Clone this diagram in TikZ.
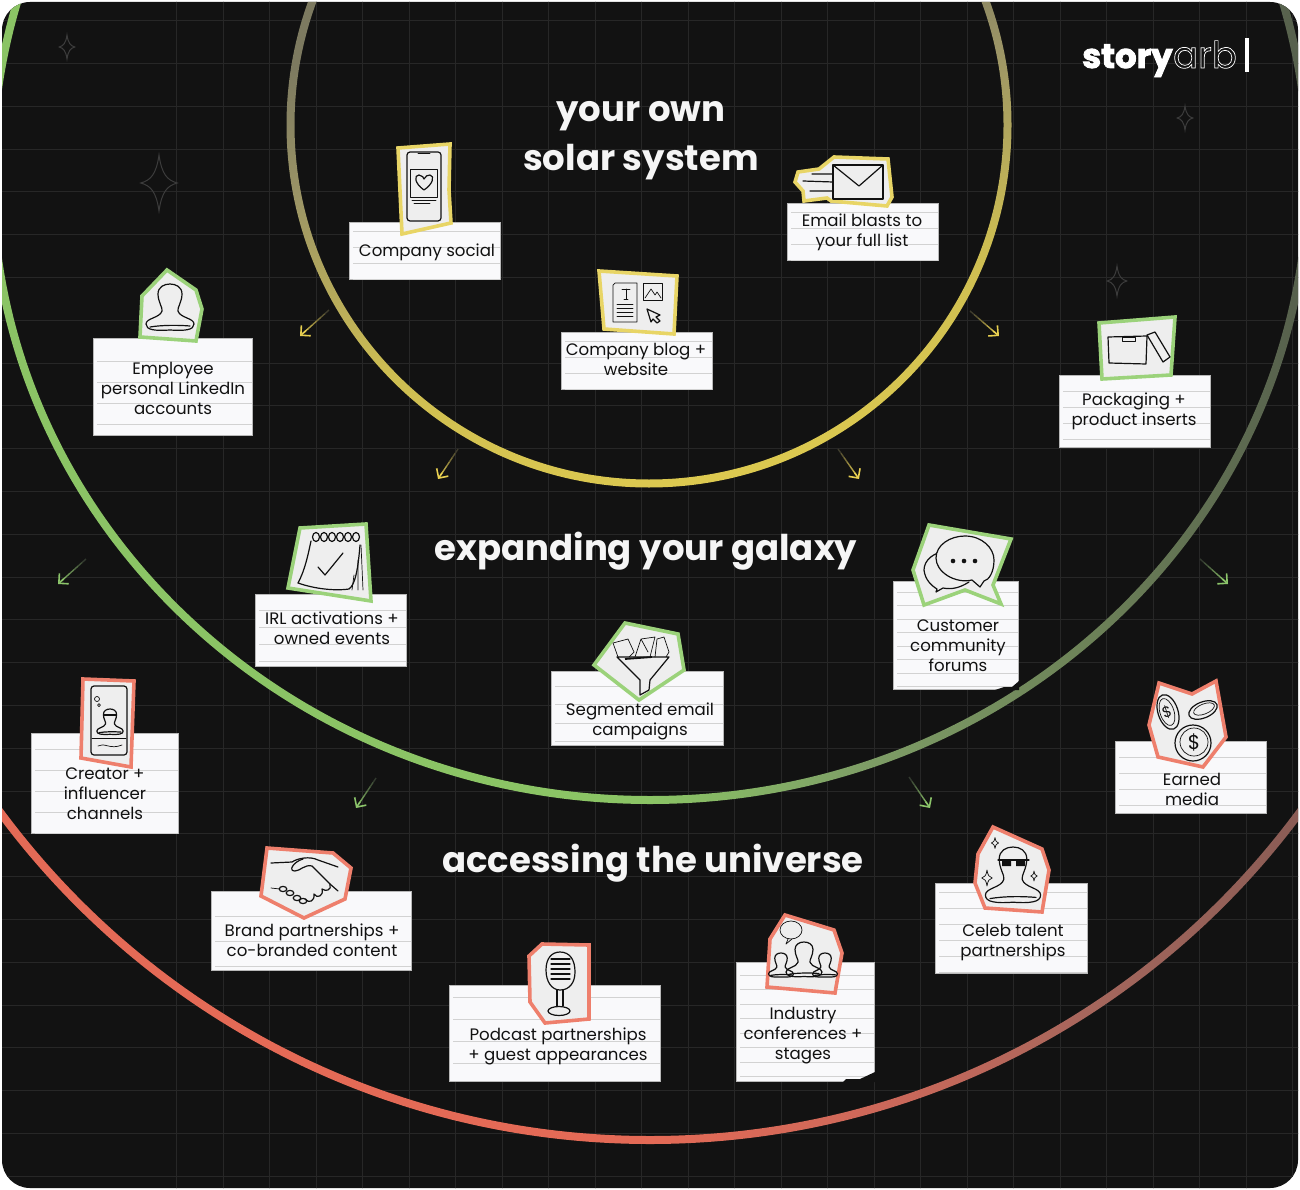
\documentclass[tikz,border=0pt]{standalone}
\usepackage{fontspec}
\setmainfont{Poppins}
\usetikzlibrary{arrows.meta,positioning,fit,calc}

\definecolor{boardbg}{HTML}{121212}
\definecolor{gridline}{HTML}{272727}
\definecolor{sparkline}{HTML}{3C3C3C}
\definecolor{headwhite}{HTML}{F5F5F5}
\definecolor{paperwhite}{HTML}{F9F9FB}
\definecolor{paperedge}{HTML}{B8B8B8}
\definecolor{ruleline}{HTML}{D2D2D2}
\definecolor{stickerpaper}{HTML}{EEEEEE}
\definecolor{inkblack}{HTML}{111111}
\definecolor{solaryellow}{HTML}{E8D566}
\definecolor{galaxygreen}{HTML}{9BD27A}
\definecolor{universered}{HTML}{EE7F6C}
\definecolor{tipyellow}{HTML}{E8D050}
\definecolor{tipgreen}{HTML}{8CC56A}

\definecolor{yA}{HTML}{DCC950}\definecolor{yB}{HTML}{CDBD52}\definecolor{yC}{HTML}{9C9566}\definecolor{yD}{HTML}{7D7A60}
\pgfdeclareverticalshading{ringsolar}{100bp}{color(0bp)=(yA); color(25bp)=(yA); color(37bp)=(yB); color(50bp)=(yC); color(59bp)=(yD); color(100bp)=(yD)}
\definecolor{gA}{HTML}{8BC465}\definecolor{gB}{HTML}{7E9E66}\definecolor{gC}{HTML}{6E8459}\definecolor{gD}{HTML}{555E4C}
\pgfdeclarehorizontalshading{ringgalaxy}{100bp}{color(0bp)=(gA); color(50bp)=(gA); color(58bp)=(gB); color(66bp)=(gC); color(75bp)=(gD); color(100bp)=(gD)}
\definecolor{rA}{HTML}{E46A56}\definecolor{rB}{HTML}{C9685A}\definecolor{rC}{HTML}{A3665C}\definecolor{rD}{HTML}{8A5C55}
\pgfdeclarehorizontalshading{ringuniverse}{100bp}{color(0bp)=(rA); color(50bp)=(rA); color(58bp)=(rB); color(64bp)=(rC); color(70bp)=(rD); color(100bp)=(rD)}

\tikzset{
  person/.pic={
    \draw[ink] (0,46) .. controls (-15,47) and (-24,46) .. (-24,40) .. controls (-24,34) and (-10,34) .. (-8,27)
      .. controls (-7,24) and (-12,18) .. (-12,10) .. controls (-12,3) and (-6,0) .. (0,0)
      .. controls (6,0) and (12,3) .. (12,10) .. controls (12,18) and (7,24) .. (8,27)
      .. controls (10,34) and (24,34) .. (24,40) .. controls (24,46) and (15,47) .. (0,46) -- cycle;
    \draw[ink] (-20,43) .. controls (-8,41) and (8,41) .. (20,42);
  },
  sparkle/.pic={
    \draw[sparkline, line width=1pt] (0,-10) .. controls (1,-3) and (3,-1) .. (6.5,0) .. controls (3,1) and (1,3) .. (0,10)
      .. controls (-1,3) and (-3,1) .. (-6.5,0) .. controls (-3,-1) and (-1,-3) .. (0,-10) -- cycle;
  },
  inksparkle/.pic={
    \draw[thinink] (0,-10) .. controls (1,-3) and (3,-1) .. (6.5,0) .. controls (3,1) and (1,3) .. (0,10)
      .. controls (-1,3) and (-3,1) .. (-6.5,0) .. controls (-3,-1) and (-1,-3) .. (0,-10) -- cycle;
  }
}

\begin{document}
\begin{tikzpicture}[
  x=1pt, y=-1pt,
  ink/.style={draw=inkblack, line width=1.2pt, line join=round, line cap=round},
  thinink/.style={draw=inkblack, line width=0.7pt, line join=round, line cap=round},
  card/.style={draw=paperedge, line width=0.6pt, fill=paperwhite, inner sep=0pt},
  cardtext/.style={align=center, text=inkblack, font=\fontsize{16.6}{20}\selectfont},
  headline/.style={align=center, text=headwhite, font=\fontsize{35.5}{49}\selectfont\bfseries},
  rule/.style={draw=ruleline, line width=0.8pt},
  sticker/.style={draw=#1, fill=stickerpaper, line width=3.6pt, line join=miter}
]
\useasboundingbox (0,0) rectangle (1300,1190);
\fill[white] (0,0) rectangle (1300,1190);

\begin{scope}
\clip[rounded corners=28pt] (2,2) rectangle (1298,1188);
\fill[boardbg] (0,0) rectangle (1300,1190);

% grid
\foreach \gx in {-3,-2,...,21} \draw[gridline, line width=1pt] ({316+46.5*\gx},0) -- ({316+46.5*\gx},1190);
\foreach \gy in {0,1,...,27} \draw[gridline, line width=1pt] (0,{20.7+42.8*\gy}) -- (1300,{20.7+42.8*\gy});

% rings
\shade[shading=ringsolar, shading angle=12, even odd rule] (649,125) circle (362.5) (649,125) circle (354.5);
\shade[shading=ringgalaxy, even odd rule] (650,174) ellipse [x radius=662, y radius=630] (650,174) ellipse [x radius=654, y radius=622];
\shade[shading=ringuniverse, even odd rule] (650,332) circle (812) (650,332) circle (804);
\end{scope}

\pic at (67,47) [scale=1.2] {sparkle};
\pic at (159,183) [scale=2.8] {sparkle};
\pic at (1185,118) [scale=1.2] {sparkle};
\pic at (1117,281) [scale=1.5] {sparkle};

% arrows between rings
\foreach \name/\xa/\ya/\xb/\yb/\tip in {
  solarnw/329/310/300/336/tipyellow, solarne/970/311/999/336/tipyellow,
  solarsw/458/449/438/479/tipyellow, solarse/838/449/859/479/tipyellow,
  galaxynw/86/559/58/584/tipgreen, galaxyne/1200/559/1228/584/tipgreen,
  galaxysw/376/778/356/808/tipgreen, galaxyse/909/777/930/808/tipgreen}{
  \coordinate (\name a) at (\xa,\ya);
  \coordinate (\name b) at (\xb,\yb);
  \foreach \st [evaluate=\st as \pct using 12+\st*15, evaluate=\st as \sa using \st/7, evaluate=\st as \sb using (\st+1)/7] in {0,...,5}
    \draw[draw=\tip!\pct!gridline, line width=1.4pt] ($(\name a)!\sa!(\name b)$) -- ($(\name a)!\sb!(\name b)$);
  \draw[draw=\tip, line width=1.6pt, -{Straight Barb[length=7pt,width=14pt,line width=1.6pt]}] ($(\name a)!0.8!(\name b)$) -- (\name b);
}

% note cards and their ruled lines
\foreach \name/\xa/\ya/\xb/\yb/\ra/\rb in {
  social/349/222/500/279/231/247, blasts/787/203/938/260/212/228, blog/561/332/712/389/341/357,
  linkedin/93/338/252/435/361/382, inserts/1059/375/1210/447/391/407,
  events/255/594/406/666/610/627, forums/893/581/1018/689/592/605.5, segmented/551/671/723/745/686/704.5,
  creator/31/733/178/833/749/770, earned/1115/741/1266/813/757/773,
  brand/211/891/411/970/916/941, podcast/449/985/660/1081/997/1019,
  industry/736/962/874/1081/975/989.5, celeb/935/883/1087/973/892/908}{
  \node[card, fit={(\xa,\ya)(\xb,\yb)}] (\name) {};
  \foreach \ry in {\ra,\rb,...,\yb}
    \draw[rule] ({\xa+4},\ry) -- (\xb,\ry);
}
% torn corners
\fill[boardbg] (995,690) -- (1004,687) -- (1012,687) -- (1019,681) -- (1019,690) -- cycle;
\fill[boardbg] (843,1082) -- (846,1079) -- (860,1079) -- (875,1072) -- (875,1082) -- cycle;

% solar system stickers
\draw[sticker=solaryellow] (398,148) -- (450,144) -- (449,190) -- (451,223) -- (402,234) -- cycle;
\draw[ink, rounded corners=3pt] (407,152) rectangle (441,221);
\draw[thinink] (418,153) -- (430,153);
\draw[thinink] (410,169) -- (437,169) -- (437,197) -- (410,197) -- cycle;
\draw[ink] (424,190) .. controls (414,183) and (414,175) .. (419,175) .. controls (422,175) and (424,178) .. (424,179)
  .. controls (425,176) and (428,175) .. (430,175) .. controls (435,176) and (433,184) .. (424,190) -- cycle;
\draw[thinink] (412,200) -- (436,200) (414,203) -- (430,203);

\draw[sticker=solaryellow] (599,271) -- (677,276) -- (674,334) -- (604,329) -- cycle;
\draw[thinink] (613,285) -- (615,283) -- (637,283) -- (637,322) -- (613,322) -- cycle;
\draw[thinink] (622,289) -- (630,289) (626,289) -- (626,299) (624,299) -- (628,299);
\foreach \ly in {304,308,312,316} \draw[thinink] (617,\ly) -- (633,\ly);
\draw[thinink] (643,283) rectangle (662,300);
\draw[thinink] (645,298) -- (651,289) -- (655,295) -- (657,292) -- (661,298);
\draw[ink] (647,309) -- (660,315) -- (656,317) -- (660,321) -- (657,323) -- (653,319) -- (651,322) -- cycle;

\draw[sticker=solaryellow] (795,182) -- (798,172) -- (819,169) -- (834,157) -- (888,159) -- (892,197) -- (887,206) -- (831,201) -- (827,198) -- (804,201) -- (803,191) -- cycle;
\draw[ink] (833,165) rectangle (883,199);
\draw[ink] (833,165) -- (859,186) -- (883,165);
\draw[ink] (812,174) -- (833,174) (803,181) -- (833,182) (810,191) -- (833,191);

% galaxy stickers
\draw[sticker=galaxygreen] (167,270) -- (196,290) -- (202,309) -- (196,341) -- (140,337) -- (142,296) -- cycle;
\pic at (170,284) {person};

\draw[sticker=galaxygreen] (1099,323) -- (1175,317) -- (1171,375) -- (1102,379) -- cycle;
\draw[ink] (1108,337) -- (1147,336) -- (1146,364) -- (1109,363) -- cycle;
\draw[thinink] (1122,337) rectangle (1135,341);
\draw[ink] (1147,335) -- (1155,332) -- (1170,357) -- (1163,362) -- cycle;

\draw[sticker=galaxygreen] (300,528) -- (366,524) -- (371,601) -- (288,588) -- cycle;
\draw[ink] (311,541) .. controls (308,555) and (305,570) .. (298,583) .. controls (315,589) and (335,591) .. (349,589)
  .. controls (355,585) and (358,570) .. (360,545);
\foreach \rx in {316,324,332,340,348,356} \draw[ink] (\rx,537) ellipse [x radius=3.5, y radius=4.5];
\draw[ink] (318,567) -- (325,575) -- (343,553);
\draw[thinink] (361,545) -- (363,590) (358,560) -- (358,590) (354,575) -- (352,590);

\draw[sticker=galaxygreen] (929,525) -- (1011,539) -- (993,585) -- (1001,604) -- (965,590) -- (924,605) -- (913,570) -- cycle;
\draw[ink] (947,551) .. controls (934,552) and (924,560) .. (924,570) .. controls (925,580) and (932,586) .. (937,589) -- (936,592) -- (943,588) .. controls (953,590) and (961,587) .. (969,582);
\draw[ink, fill=stickerpaper] (965,536) .. controls (982,536) and (994,548) .. (994,560) .. controls (994,572) and (989,580) .. (984,581) -- (980,587) -- (972,580) .. controls (955,584) and (936,572) .. (936,558) .. controls (936,545) and (950,536) .. (965,536) -- cycle;
\foreach \dx in {953,964,975} \fill[inkblack] (\dx,561) circle (2.3);

\draw[sticker=galaxygreen] (625,623) -- (678,634) -- (684,670) -- (639,700) -- (594,665) -- cycle;
\draw[ink] (617,657) -- (669,657) -- (650,680) -- (649,690) -- (640,695) -- (640,680) -- cycle;
\draw[thinink] (618,657) -- (613,643) -- (628,639) -- (634,652) -- (629,657) (635,657) -- (641,639) -- (655,637) -- (650,657) (641,639) -- (648,652) (655,657) -- (657,639) -- (664,637) -- (669,652) -- (666,657);
\draw[line width=1.8pt, inkblack] (625,659) -- (652,657);

% universe stickers
\draw[sticker=universered] (83,679) -- (134,681) -- (131,767) -- (81,758) -- cycle;
\draw[ink, rounded corners=3pt] (91,686) rectangle (127,755);
\draw[thinink] (92,738) -- (126,738);
\pic at (110,709) [scale=0.55] {person};
\draw[line width=2pt, inkblack] (104,715) -- (116,715);
\draw[thinink] (97,699) circle (2.5) (99,705) circle (1.5);
\draw[thinink] (98,746) .. controls (104,742) and (110,750) .. (122,745);

\draw[sticker=universered] (1159,683) -- (1192,694) -- (1216,681) -- (1226,737) -- (1203,767) -- (1158,757) -- (1149,725) -- cycle;
\draw[ink, rotate around={18:(1168,712)}] (1168,712) ellipse [x radius=10, y radius=18];
\draw[thinink, rotate around={18:(1167,712)}] (1167,712) ellipse [x radius=7, y radius=14];
\node[text=inkblack, font=\fontsize{15}{15}\selectfont, rotate=18] (coinleft) at (1167,712) {\$};
\draw[ink, rotate around={22:(1203,710)}] (1203,710) ellipse [x radius=15, y radius=8];
\draw[thinink, rotate around={22:(1204,709)}] (1204,709) ellipse [x radius=11, y radius=5];
\draw[ink] (1193,743) circle (18);
\draw[thinink] (1194,742) circle (14);
\node[text=inkblack, font=\fontsize{20}{20}\selectfont] (coinbig) at (1194,742) {\$};

\draw[sticker=universered] (993,827) -- (1042,849) -- (1049,870) -- (1042,912) -- (985,908) -- (975,883) -- (978,854) -- cycle;
\pic at (1013,847) [yscale=1.2, xscale=1.15] {person};
\draw[ink] (998,860) -- (1029,860);
\fill[inkblack] (1002,861) rectangle (1011,866) (1016,861) rectangle (1025,866);
\pic at (995,843) [scale=0.55] {inksparkle};
\pic at (987,878) [scale=0.8] {inksparkle};
\pic at (1034,876) [scale=0.5] {inksparkle};

\draw[sticker=universered] (267,848) -- (333,853) -- (351,868) -- (345,899) -- (304,918) -- (261,896) -- cycle;
\draw[ink] (271,863) -- (292,862) .. controls (298,858) and (310,856) .. (318,860) -- (338,867);
\draw[ink] (303,859) .. controls (293,862) and (288,871) .. (295,871) .. controls (300,871) and (305,864) .. (312,866) -- (330,884) -- (338,891);
\draw[ink] (330,884) .. controls (332,890) and (326,892) .. (322,889) .. controls (324,896) and (317,899) .. (314,894) .. controls (315,901) and (309,904) .. (305,899);
\draw[thinink] (271,888) -- (280,889);
\foreach \kx/\ky in {283/889, 290/893, 297/898, 303/901} \draw[ink] (\kx,\ky) ellipse [x radius=3.8, y radius=2.6];

\draw[sticker=universered] (542,944) -- (589,945) -- (589,1019) -- (545,1023) -- (530,1002) -- (529,956) -- cycle;
\draw[ink] (546,970) .. controls (546,958) and (552,952) .. (560,952) .. controls (570,952) and (575,960) .. (575,972) .. controls (575,982) and (570,990) .. (560,990) .. controls (552,990) and (546,982) .. (546,970) -- cycle;
\foreach \gy in {959,964,969,974,979} \draw[ink] (551,\gy) -- (570,\gy);
\draw[ink] (557,990) -- (557,1006) (563,990) -- (563,1006);
\draw[ink] (559,1011) ellipse [x radius=11, y radius=4.5];

\draw[sticker=universered] (785,915) -- (834,930) -- (842,953) -- (835,993) -- (767,987) -- (770,939) -- cycle;
\draw[thinink] (791,930) ellipse [x radius=11, y radius=9];
\draw[thinink] (788,939) -- (786,944) -- (792,939);
\pic at (781,953) [scale=0.52] {person};
\pic at (825,953) [scale=0.52] {person};
\pic[fill=stickerpaper] at (804,942) [scale=0.75] {person};

% note text
\node[cardtext] (socialtext) at (427,252) {Company social};
\node[cardtext] (blaststext) at (862,232) {Email blasts to\\your full list};
\node[cardtext] (blogtext) at (636,359) {Company blog +\\website};
\node[cardtext] (linkedintext) at (173,388) {Employee\\personal LinkedIn\\accounts};
\node[cardtext] (insertstext) at (1134,411) {Packaging +\\product inserts};
\node[cardtext] (eventstext) at (332,628) {IRL activations +\\owned events\hspace{8pt}};
\node[cardtext] (forumstext) at (958,646) {Customer\\community\\forums\hspace{4pt}};
\node[cardtext] (segmentedtext) at (640,721) {Segmented email\\campaigns};
\node[cardtext] (creatortext) at (105,794) {Creator +\\influencer\\channels\hspace{4pt}};
\node[cardtext] (earnedtext) at (1192,789) {Earned\\media};
\node[cardtext] (brandtext) at (312,940) {Brand partnerships +\\co-branded content};
\node[cardtext] (podcasttext) at (558,1046) {Podcast partnerships\\+ guest appearances};
\node[cardtext] (industrytext) at (803,1036) {Industry\\conferences +\\stages\hspace{4pt}};
\node[cardtext] (celebtext) at (1013,943) {Celeb talent\\partnerships};

% headings
\node[headline] (solar) at (641,141) {your own\\solar system};
\node[headline] (expanding) at (646,551) {expanding your galaxy};
\node[headline] (universe) at (653,863) {accessing the universe};

% logo
\node[anchor=base west, inner sep=0pt, text=white, font=\fontsize{34}{34}\selectfont\bfseries\addfontfeature{FakeBold=2.5}] (story) at (1082,68) {story};
\node[right=0pt of story.base east, anchor=base west, inner sep=0pt, text=boardbg, font=\fontsize{37}{37}\selectfont\addfontfeature{FakeBold=2}] (arb) {\special{pdf:code 1 1 1 RG}arb};
\fill[white] (1245,38) rectangle (1248.5,72);
\end{tikzpicture}
\end{document}
